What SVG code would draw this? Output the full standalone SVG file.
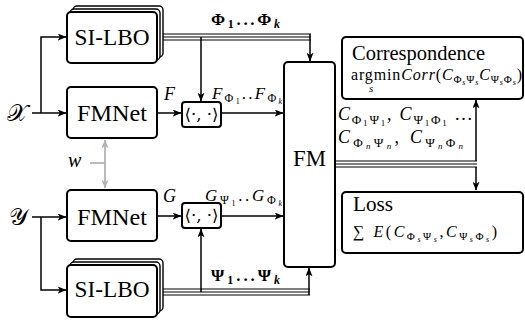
<svg xmlns="http://www.w3.org/2000/svg" width="525" height="322" viewBox="0 0 525 322">
<style>
.t { font-family: "Liberation Serif", "Times New Roman", serif; fill: #000; }
.box { fill: #fff; stroke: #000; stroke-width: 2; }
.back { fill: #fff; stroke: #000; stroke-width: 1.4; }
.ln { fill: none; stroke: #000; stroke-width: 1.5; }
.tri { fill: none; stroke: #000; stroke-width: 1.1; }
.gray { fill: none; stroke: #b3b3b3; stroke-width: 1.8; }
.big { font-size: 23px; }
.mid { font-size: 20px; }
.it { font-style: italic; }
.bf { font-weight: bold; }
.sym { font-family: "DejaVu Serif", "DejaVu Sans", serif; }
</style>
<defs>
<marker id="ah" viewBox="0 0 10 8" refX="9.5" refY="4" markerWidth="9" markerHeight="7" markerUnits="userSpaceOnUse" orient="auto">
<path d="M0,0 L10,4 L0,8 L2.5,4 Z" fill="#000"/>
</marker>
<marker id="ahg" viewBox="0 0 10 8" refX="9.5" refY="4" markerWidth="9" markerHeight="7" markerUnits="userSpaceOnUse" orient="auto-start-reverse">
<path d="M0,0 L10,4 L0,8 L2.5,4 Z" fill="#b3b3b3"/>
</marker>
</defs>

<g id="connectors">
<path class="ln" d="M32,113 H66" marker-end="url(#ah)"/>
<path class="ln" d="M41,113 V37 H66" marker-end="url(#ah)"/>
<path class="ln" d="M32,217 H66" marker-end="url(#ah)"/>
<path class="ln" d="M41,217 V290 H66" marker-end="url(#ah)"/>
<path class="ln" d="M157,113 H181" marker-end="url(#ah)"/>
<path class="ln" d="M157,216 H181" marker-end="url(#ah)"/>
<path class="ln" d="M221,113 H283" marker-end="url(#ah)"/>
<path class="ln" d="M221,216 H283" marker-end="url(#ah)"/>
<path class="tri" d="M163,34 H311 M163,37 H311 M163,40 H311"/>
<path class="ln" d="M201,37 V101" marker-end="url(#ah)"/>
<path class="ln" d="M310,34 V61" marker-end="url(#ah)"/>
<path class="tri" d="M163,289 H310 M163,292 H310 M163,295 H310"/>
<path class="ln" d="M201,292 V229" marker-end="url(#ah)"/>
<path class="ln" d="M309,295 V268" marker-end="url(#ah)"/>
<path class="tri" d="M335,161 H477 M335,164 H477 M335,167 H477"/>
<path class="ln" d="M476,167 V190" marker-end="url(#ah)"/>
<path class="ln" d="M476,161 V100" marker-end="url(#ah)"/>
<path class="gray" d="M105,140 V188" marker-start="url(#ahg)" marker-end="url(#ahg)"/>
<path class="gray" d="M90,163 H105"/>
</g>

<g id="label-X"><text class="sym" x="7" y="121" font-size="24">𝒳</text></g>
<g id="label-Y"><text class="sym" x="9" y="225" font-size="24">𝒴</text></g>
<g id="label-w"><text class="t it" x="68" y="167" font-size="20">w</text></g>

<g id="silbo-top">
<rect class="back" x="73" y="6" width="90" height="51" rx="4"/>
<rect class="back" x="70" y="9" width="90" height="51" rx="4"/>
<rect class="box" x="67" y="12" width="90" height="51" rx="4"/>
<text class="t big" x="112" y="44.5" text-anchor="middle" textLength="75" lengthAdjust="spacingAndGlyphs">SI-LBO</text>
</g>

<g id="fmnet-top">
<rect class="box" x="67" y="87" width="90" height="51" rx="4"/>
<text class="t big" x="112" y="121" text-anchor="middle" textLength="70" lengthAdjust="spacingAndGlyphs">FMNet</text>
</g>

<g id="fmnet-bottom">
<rect class="box" x="67" y="190" width="90" height="51" rx="4"/>
<text class="t big" x="112" y="225" text-anchor="middle" textLength="70" lengthAdjust="spacingAndGlyphs">FMNet</text>
</g>

<g id="silbo-bottom">
<rect class="back" x="73" y="259" width="90" height="52" rx="4"/>
<rect class="back" x="70" y="262" width="90" height="52" rx="4"/>
<rect class="box" x="67" y="265" width="90" height="52" rx="4"/>
<text class="t big" x="112" y="296.5" text-anchor="middle" textLength="75" lengthAdjust="spacingAndGlyphs">SI-LBO</text>
</g>

<g id="inner-top">
<rect class="box" x="182" y="102" width="39" height="25" rx="3"/>
<text class="sym" x="201.5" y="120" font-size="16" text-anchor="middle" textLength="34" lengthAdjust="spacingAndGlyphs">⟨·, ·⟩</text>
</g>

<g id="inner-bottom">
<rect class="box" x="182" y="203" width="39" height="25" rx="3"/>
<text class="sym" x="201.5" y="221" font-size="16" text-anchor="middle" textLength="34" lengthAdjust="spacingAndGlyphs">⟨·, ·⟩</text>
</g>

<g id="fm">
<rect class="box" x="284" y="62" width="51" height="205" rx="4"/>
<text class="t big" x="309.5" y="166" text-anchor="middle" textLength="33" lengthAdjust="spacingAndGlyphs">FM</text>
</g>

<g id="correspondence">
<rect class="box" x="342" y="37" width="181" height="62" rx="4"/>
<text class="t mid" x="352" y="60" textLength="133" lengthAdjust="spacingAndGlyphs">Correspondence</text>
<text class="t" x="351" y="80" font-size="16" textLength="171" lengthAdjust="spacing">argmin<tspan class="it">Corr</tspan>(<tspan class="it">C</tspan><tspan font-size="11" dy="3">Φ</tspan><tspan font-size="8" dy="2" class="it">s</tspan><tspan font-size="11" dy="-2">Ψ</tspan><tspan font-size="8" dy="2" class="it">s</tspan><tspan class="it" dy="-5">C</tspan><tspan font-size="11" dy="3">Ψ</tspan><tspan font-size="8" dy="2" class="it">s</tspan><tspan font-size="11" dy="-2">Φ</tspan><tspan font-size="8" dy="2" class="it">s</tspan><tspan dy="-5">)</tspan></text>
<text class="t it" x="369" y="92" font-size="11">s</text>
</g>

<g id="loss">
<rect class="box" x="342" y="192" width="181" height="61" rx="4"/>
<text class="t mid" x="353" y="211" textLength="40" lengthAdjust="spacingAndGlyphs">Loss</text>
<text class="t" x="353" y="237" font-size="16" textLength="144" lengthAdjust="spacing">∑<tspan class="it"> E</tspan>(<tspan class="it">C</tspan><tspan font-size="11" dy="3">Φ</tspan><tspan font-size="8" dy="2" class="it">s</tspan><tspan font-size="11" dy="-2">Ψ</tspan><tspan font-size="8" dy="2" class="it">s</tspan><tspan dy="-5">,</tspan><tspan class="it">C</tspan><tspan font-size="11" dy="3">Ψ</tspan><tspan font-size="8" dy="2" class="it">s</tspan><tspan font-size="11" dy="-2">Φ</tspan><tspan font-size="8" dy="2" class="it">s</tspan><tspan dy="-5">)</tspan></text>
</g>

<g id="edge-labels">
<text class="t it" x="164" y="100" font-size="18">F</text>
<text class="t it" x="163" y="202" font-size="18">G</text>
<text class="t" x="212" y="99" font-size="17" textLength="70" lengthAdjust="spacing"><tspan class="it">F</tspan><tspan font-size="12" dy="3">Φ</tspan><tspan font-size="8" dy="2">1</tspan><tspan dy="-5">..</tspan><tspan class="it">F</tspan><tspan font-size="12" dy="3">Φ</tspan><tspan font-size="8" dy="2" class="it">k</tspan></text>
<text class="t" x="205" y="201" font-size="17" textLength="77" lengthAdjust="spacing"><tspan class="it">G</tspan><tspan font-size="12" dy="3">Ψ</tspan><tspan font-size="8" dy="2">1</tspan><tspan dy="-5">..</tspan><tspan class="it">G</tspan><tspan font-size="12" dy="3">Φ</tspan><tspan font-size="8" dy="2" class="it">k</tspan></text>
<text class="t bf" x="211" y="25" font-size="17" textLength="69" lengthAdjust="spacing">Φ<tspan font-size="12" dy="3">1</tspan><tspan dy="-3">...</tspan>Φ<tspan font-size="12" dy="3" class="it">k</tspan></text>
<text class="t bf" x="211" y="281" font-size="17" textLength="69" lengthAdjust="spacing">Ψ<tspan font-size="12" dy="3">1</tspan><tspan dy="-3">...</tspan>Ψ<tspan font-size="12" dy="3" class="it">k</tspan></text>
<text class="t" x="338" y="120" font-size="18" textLength="134" lengthAdjust="spacing"><tspan class="it">C</tspan><tspan font-size="13" dy="4">Φ</tspan><tspan font-size="9" dy="2">1</tspan><tspan font-size="13" dy="-2">Ψ</tspan><tspan font-size="9" dy="2">1</tspan><tspan dy="-6">, </tspan><tspan class="it">C</tspan><tspan font-size="13" dy="4">Ψ</tspan><tspan font-size="9" dy="2">1</tspan><tspan font-size="13" dy="-2">Φ</tspan><tspan font-size="9" dy="2">1</tspan><tspan dy="-6"> ...</tspan></text>
<text class="t" x="338" y="143" font-size="18" textLength="125" lengthAdjust="spacing"><tspan class="it">C</tspan><tspan font-size="13" dy="4">Φ</tspan><tspan font-size="9" dy="2" class="it">n</tspan><tspan font-size="13" dy="-2">Ψ</tspan><tspan font-size="9" dy="2" class="it">n</tspan><tspan dy="-6">, </tspan><tspan class="it">C</tspan><tspan font-size="13" dy="4">Ψ</tspan><tspan font-size="9" dy="2" class="it">n</tspan><tspan font-size="13" dy="-2">Φ</tspan><tspan font-size="9" dy="2" class="it">n</tspan></text>
</g>
</svg>
